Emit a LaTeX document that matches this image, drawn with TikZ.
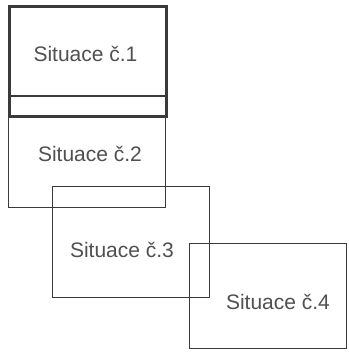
\documentclass[tikz,border=0pt]{standalone}
\usepackage{fontspec}
\setmainfont{Liberation Sans}
\definecolor{frame}{HTML}{3A3A3A}
\definecolor{ink}{HTML}{505050}
\tikzset{
  sitbox/.style={draw=frame, line width=1.1pt, anchor=north west,
    minimum width=157pt, minimum height=111pt, inner sep=0pt},
  sitlabel/.style={text=ink, inner sep=0pt, font=\fontsize{21}{21}\selectfont},
}
\begin{document}
\begin{tikzpicture}[x=1pt,y=-1pt]
    \useasboundingbox (0,0) rectangle (348,353);
    % frames
    \node[sitbox] (sit2) at (8,96) {};
    \node[sitbox] (sit3) at (52,186) {};
    \node[sitbox, minimum height=105pt] (sit4) at (189,243) {};
    \node[sitbox, line width=2.6pt, minimum height=110pt, fill=white] (sit1) at (8,5) {};
    \draw[frame, line width=1.4pt] (sit1.west |- sit2.north) -- (sit1.east |- sit2.north);
    % labels
    \node[sitlabel] (lab1) at (85.5,54) {Situace č.1};
    \node[sitlabel] (lab2) at (90,154) {Situace č.2};
    \node[sitlabel] (lab3) at (122,250) {Situace č.3};
    \node[sitlabel] (lab4) at (278,301.5) {Situace č.4};
\end{tikzpicture}
\end{document}
